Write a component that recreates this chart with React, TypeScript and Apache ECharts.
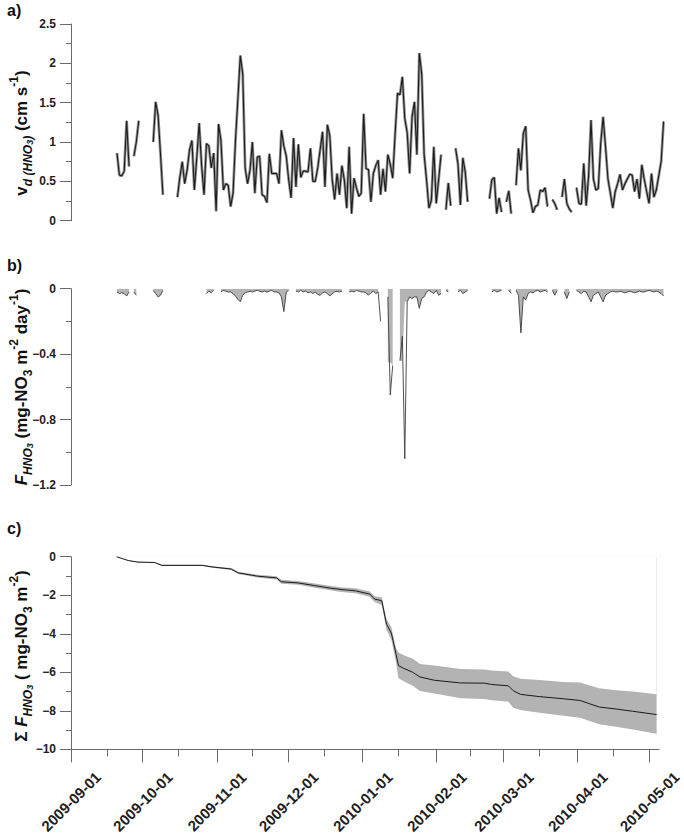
import React, { useEffect, useRef } from 'react';
import * as echarts from 'echarts';

const FONT = '"Liberation Sans", Arial, Helvetica, sans-serif';

// ---------- axis / tick data ----------
const axisStart = '2009-09-01';
const axisEnd = '2010-05-05';
const monthTicks = [
  '2009-09-01', '2009-10-01', '2009-11-01', '2009-12-01', '2010-01-01',
  '2010-02-01', '2010-03-01', '2010-04-01', '2010-05-01',
];
const midMonthTicks = [
  '2009-09-16', '2009-10-16', '2009-11-16', '2009-12-16', '2010-01-16',
  '2010-02-15', '2010-03-16', '2010-04-16',
];

// ---------- a) deposition velocity (cm s-1), daily, segments [first day, values] ----------
const velocitySegments: [string, number[]][] = [
  ['2009-09-20', [0.86, 0.58, 0.57, 0.63, 1.27, 0.69]],
  ['2009-09-27', [0.82, 1.0, 1.27]],
  ['2009-10-05', [1.0, 1.51, 1.34, 0.85, 0.33]],
  ['2009-10-15', [
    0.30, 0.55, 0.75, 0.47, 0.64, 0.90, 1.02, 0.39, 0.80, 1.24,
    0.70, 0.33, 0.98, 0.95, 0.67, 0.86, 0.12, 1.23, 1.02, 0.39,
    0.47, 0.45, 0.18, 0.35, 1.02, 1.55, 2.10, 1.87, 0.67, 0.47,
    0.64, 1.00, 0.35, 0.81, 0.82, 0.33, 0.31, 0.23, 0.85, 0.60,
    0.60, 0.60, 0.47, 1.15, 0.95, 0.82, 0.52, 0.29, 1.05, 0.43,
    0.97, 0.55, 0.63, 0.63, 0.62, 0.92, 0.50, 0.50, 0.67, 0.90,
    1.13, 0.43, 1.22, 1.08, 0.52, 0.27, 0.60, 0.33, 0.70, 0.52,
    0.16, 0.94, 0.09, 0.54, 0.42, 0.31, 0.35, 1.36, 0.66, 0.65,
    0.24, 0.60, 0.70, 0.77, 0.33, 0.66, 0.37, 0.84, 0.72, 0.54,
    1.10, 1.62, 1.60, 1.83, 1.30, 1.12, 0.60, 1.32, 1.51, 0.84,
    2.13, 1.87, 0.84, 0.52, 0.16, 0.26, 0.94, 0.22, 0.52, 0.84,
  ]],
  ['2010-02-03', [0.14, 0.48, 0.19]],
  ['2010-02-07', [0.92, 0.72, 0.20, 0.80, 0.62, 0.24]],
  ['2010-02-21', [0.28, 0.52, 0.55, 0.09, 0.29, 0.11]],
  ['2010-02-28', [0.24, 0.38, 0.09]],
  ['2010-03-04', [0.45, 0.92, 0.64, 1.11, 1.20, 0.39, 0.26, 0.10, 0.18, 0.20, 0.39, 0.37, 0.42, 0.18]],
  ['2010-03-19', [0.27, 0.22, 0.14]],
  ['2010-03-23', [0.30, 0.53, 0.22, 0.15, 0.11]],
  ['2010-03-29', [
    0.42, 0.22, 0.21, 0.73, 0.19, 0.57, 1.28, 0.53, 0.39, 0.41,
    0.98, 1.32, 0.94, 0.53, 0.35, 0.16, 0.37, 0.47, 0.59, 0.39,
    0.47, 0.53, 0.59, 0.58, 0.37, 0.53, 0.28, 0.71, 0.53, 0.37,
    0.22, 0.60, 0.30, 0.39, 0.57, 0.75, 1.26,
  ]],
];

// ---------- b) HNO3 flux (mg-NO3 m-2 day-1), daily segments ----------
const fluxSegments: [string, number[]][] = [
  ['2009-09-20', [-0.02, -0.03, -0.025, -0.03, -0.045, -0.02]],
  ['2009-09-27', [-0.02, -0.04]],
  ['2009-10-05', [-0.01, -0.03, -0.05, -0.04, -0.01]],
  ['2009-10-27', [-0.03, -0.015, -0.025, -0.01]],
  ['2009-11-02', [
    -0.02, -0.01, -0.015, -0.02, -0.02, -0.03, -0.045, -0.065, -0.08, -0.04,
    -0.025, -0.02, -0.015, -0.02, -0.015, -0.01, -0.015, -0.02, -0.015, -0.02,
    -0.015, -0.01, -0.02, -0.02, -0.025, -0.05, -0.14, -0.02, -0.01,
  ]],
  ['2009-12-03', [
    -0.015, -0.02, -0.01, -0.02, -0.015, -0.025, -0.02, -0.03, -0.02, -0.035,
    -0.04, -0.025, -0.02, -0.03, -0.045, -0.03, -0.02, -0.015, -0.02, -0.015,
  ]],
  ['2009-12-25', [-0.02, -0.015, -0.02, -0.01, -0.015, -0.02, -0.02, -0.025, -0.04, -0.025, -0.015, -0.03, -0.02, -0.2]],
  ['2010-01-10', [-0.05, -0.65, -0.47]],
  ['2010-01-15', [-0.44, -0.29, -1.04, -0.08, -0.05, -0.06, -0.05, -0.05, -0.12, -0.06, -0.05, -0.02, -0.01, -0.02, -0.03, -0.01, -0.04, -0.03]],
  ['2010-02-03', [-0.01, -0.02]],
  ['2010-02-08', [-0.02, -0.01, -0.03, -0.02, -0.01]],
  ['2010-02-22', [-0.02, -0.01, -0.02, -0.015, -0.01]],
  ['2010-03-01', [-0.01, -0.03]],
  ['2010-03-04', [-0.01, -0.04, -0.27, -0.05, -0.07, -0.03, -0.02, -0.025, -0.015, -0.01, -0.02, -0.015, -0.01, -0.02]],
  ['2010-03-19', [-0.01, -0.04, -0.01]],
  ['2010-03-24', [-0.02, -0.06, -0.02]],
  ['2010-03-29', [
    -0.01, -0.02, -0.03, -0.015, -0.02, -0.05, -0.08, -0.04, -0.03, -0.02,
    -0.05, -0.08, -0.04, -0.03, -0.02, -0.015, -0.02, -0.02, -0.015, -0.02,
    -0.025, -0.02, -0.015, -0.02, -0.025, -0.02, -0.015, -0.02, -0.02, -0.015,
    -0.01, -0.015, -0.02, -0.015, -0.02, -0.03, -0.045,
  ]],
];
// days where the shaded flux area differs from the flux line
const fluxFillEdits: [string, number | null][] = [
  ['2010-01-07', null],
  ['2010-01-10', -0.45],
  ['2010-01-11', -0.45],
  ['2010-01-16', -0.44],
  ['2010-01-17', -0.08],
];

// ---------- c) cumulative flux (mg-NO3 m-2) with uncertainty range ----------
const cumDates = [
  '2009-09-20', '2009-09-25', '2009-09-29', '2009-10-06', '2009-10-09', '2009-10-26', '2009-10-30',
  '2009-11-07', '2009-11-10', '2009-11-18', '2009-11-26', '2009-11-28', '2009-12-05', '2009-12-12',
  '2009-12-19', '2009-12-23', '2009-12-29', '2010-01-04', '2010-01-06', '2010-01-09', '2010-01-11',
  '2010-01-13', '2010-01-14', '2010-01-15', '2010-01-16', '2010-01-18', '2010-01-22', '2010-01-25',
  '2010-01-31', '2010-02-11', '2010-02-21', '2010-02-24', '2010-03-03', '2010-03-05', '2010-03-08',
  '2010-03-16', '2010-03-26', '2010-04-02', '2010-04-06', '2010-04-10', '2010-04-17', '2010-04-24',
  '2010-05-04',
];
const cumFlux = [
  0, -0.2, -0.28, -0.3, -0.45, -0.45, -0.53, -0.64, -0.84, -1.01, -1.1, -1.3, -1.36, -1.5,
  -1.64, -1.7, -1.77, -1.94, -2.2, -2.28, -3.5, -3.96, -4.5, -5.06, -5.65, -5.78, -6.0, -6.24,
  -6.41, -6.55, -6.56, -6.63, -6.7, -6.95, -7.14, -7.26, -7.37, -7.46, -7.63, -7.8, -7.9, -8.02,
  -8.19,
];
const cumUpper = [
  0, -0.19, -0.26, -0.28, -0.42, -0.42, -0.49, -0.59, -0.78, -0.94, -1.02, -1.2, -1.26, -1.39,
  -1.52, -1.58, -1.64, -1.8, -2.05, -2.1, -3.25, -3.65, -4.2, -4.75, -4.97, -5.1, -5.3, -5.57,
  -5.65, -5.82, -5.85, -5.9, -5.95, -6.2, -6.33, -6.4, -6.5, -6.53, -6.68, -6.83, -6.93, -7.0,
  -7.13,
];
const cumLower = [
  0, -0.21, -0.3, -0.32, -0.48, -0.48, -0.57, -0.69, -0.9, -1.08, -1.18, -1.4, -1.46, -1.61,
  -1.76, -1.83, -1.9, -2.08, -2.35, -2.5, -3.8, -4.3, -4.9, -5.5, -6.3, -6.45, -6.7, -6.97,
  -7.1, -7.34, -7.38, -7.45, -7.52, -7.84, -7.95, -8.1, -8.25, -8.35, -8.52, -8.69, -8.82, -8.97,
  -9.19,
];

// ---------- helpers ----------
function dayTime(s: string, offset = 0): number {
  const [y, m, d] = s.split('-').map(Number);
  return new Date(y, m - 1, d + offset).getTime();
}

function buildDaily(segments: [string, number[]][], edits: [string, number | null][] = []) {
  const editMap = new Map<number, number | null>();
  edits.forEach(([d, v]) => editMap.set(dayTime(d), v));
  const out: [number, number | null][] = [];
  segments.forEach(([start, vals]) => {
    vals.forEach((v, i) => {
      const t = dayTime(start, i);
      out.push([t, editMap.has(t) ? (editMap.get(t) as number | null) : v]);
    });
    const last = dayTime(start, vals.length - 1);
    out.push([last + 12 * 3600 * 1000, null]);
  });
  return out;
}

function fmtDate(v: number): string {
  const d = new Date(v);
  const p = (n: number) => (n < 10 ? '0' + n : '' + n);
  return `${d.getFullYear()}-${p(d.getMonth() + 1)}-${p(d.getDate())}`;
}

const AXIS_COLOR = '#6a6a6a';
const LABEL_COLOR = '#1e1e1e';

function yAxis(gridIndex: number, min: number, max: number, interval: number) {
  return {
    type: 'value',
    gridIndex,
    min,
    max,
    interval,
    axisLine: { show: true, lineStyle: { color: AXIS_COLOR, width: 1 } },
    axisTick: { show: true, length: 11, lineStyle: { color: AXIS_COLOR, width: 1 } },
    minorTick: { show: true, splitNumber: 2, length: 5, lineStyle: { color: AXIS_COLOR, width: 1 } },
    splitLine: { show: false },
    minorSplitLine: { show: false },
    axisLabel: {
      margin: 15,
      fontSize: 12,
      fontWeight: 'bold',
      fontFamily: FONT,
      color: LABEL_COLOR,
      formatter: (v: number) => String(Math.round(v * 100) / 100).replace('-', '\u2212'),
    },
  };
}

const richStyles = {
  m: { fontSize: 17, fontWeight: 'bold', fontFamily: FONT, lineHeight: 26, verticalAlign: 'middle', fill: '#111' },
  mi: { fontSize: 17, fontWeight: 'bold', fontStyle: 'italic', fontFamily: FONT, lineHeight: 26, verticalAlign: 'middle', fill: '#111' },
  s: { fontSize: 12, fontWeight: 'bold', fontFamily: FONT, lineHeight: 12, verticalAlign: 'bottom', fill: '#111' },
  si: { fontSize: 12, fontWeight: 'bold', fontStyle: 'italic', fontFamily: FONT, lineHeight: 12, verticalAlign: 'bottom', fill: '#111' },
  ss: { fontSize: 9, fontWeight: 'bold', fontStyle: 'italic', fontFamily: FONT, lineHeight: 6, verticalAlign: 'bottom', fill: '#111' },
  p: { fontSize: 12, fontWeight: 'bold', fontFamily: FONT, lineHeight: 12, verticalAlign: 'top', fill: '#111' },
};

function yTitle(text: string, x: number, y: number) {
  return {
    type: 'text',
    x,
    y,
    rotation: Math.PI / 2,
    style: { text, rich: richStyles, align: 'center', verticalAlign: 'middle', fill: '#111' },
  };
}

function panelLabel(text: string, x: number, y: number) {
  return {
    type: 'text',
    x,
    y,
    style: { text, fontSize: 16, fontWeight: 'bold', fontFamily: FONT, fill: '#111', verticalAlign: 'top', align: 'left' },
  };
}

function buildOption() {
  const tMin = dayTime(axisStart);
  const tMax = dayTime(axisEnd);
  const velocity = buildDaily(velocitySegments);
  const flux = buildDaily(fluxSegments);
  const fluxFill = buildDaily(fluxSegments, fluxFillEdits);
  const cumT = cumDates.map((d) => dayTime(d));
  const bandLower = cumT.map((t, i) => [t, cumLower[i]]);
  const bandUpper = cumT.map((t, i) => [t, cumUpper[i]]);
  const cumLine = cumT.map((t, i) => [t, cumFlux[i]]);

  const hiddenX = (gridIndex: number) => ({ type: 'time', gridIndex, min: tMin, max: tMax, show: false });

  return {
    animation: false,
    backgroundColor: '#ffffff',
    grid: [
      { left: 71, top: 24, width: 595, height: 196.7 },
      { left: 71, top: 288.7, width: 595, height: 196.3 },
      { left: 71, top: 556.7, width: 595, height: 197.6 },
    ],
    xAxis: [
      hiddenX(0),
      hiddenX(1),
      hiddenX(2),
      {
        type: 'value',
        gridIndex: 2,
        min: tMin,
        max: tMax,
        position: 'bottom',
        axisLine: { show: true, onZero: false, lineStyle: { color: AXIS_COLOR, width: 1 } },
        axisTick: { show: true, customValues: monthTicks.map((d) => dayTime(d)), length: 13, lineStyle: { color: AXIS_COLOR, width: 1 } },
        axisLabel: {
          customValues: monthTicks.map((d) => dayTime(d)),
          formatter: (v: number) => fmtDate(v),
          rotate: 45,
          align: 'center',
          verticalAlign: 'middle',
          margin: 52,
          fontSize: 15,
          fontWeight: 'bold',
          fontFamily: FONT,
          color: LABEL_COLOR,
        },
        splitLine: { show: false },
      },
      {
        type: 'value',
        gridIndex: 2,
        min: tMin,
        max: tMax,
        position: 'bottom',
        axisLine: { show: false, onZero: false },
        axisTick: { show: true, customValues: midMonthTicks.map((d) => dayTime(d)), length: 7, lineStyle: { color: AXIS_COLOR, width: 1 } },
        axisLabel: { show: false },
        splitLine: { show: false },
      },
    ],
    yAxis: [yAxis(0, 0, 2.5, 0.5), yAxis(1, -1.2, 0, 0.4), yAxis(2, -10, 0, 2)],
    series: [
      {
        type: 'line', xAxisIndex: 0, yAxisIndex: 0, data: velocity, symbol: 'none', connectNulls: false,
        lineStyle: { color: '#959595', width: 2.8 }, z: 2,
      },
      {
        type: 'line', xAxisIndex: 0, yAxisIndex: 0, data: velocity, symbol: 'none', connectNulls: false,
        lineStyle: { color: '#1c1c1c', width: 1.1 }, z: 3,
      },
      {
        type: 'line', xAxisIndex: 1, yAxisIndex: 1, data: fluxFill, symbol: 'none', connectNulls: false,
        lineStyle: { width: 0, opacity: 0 }, areaStyle: { color: '#b4b4b4', opacity: 1 }, z: 2,
      },
      {
        type: 'line', xAxisIndex: 1, yAxisIndex: 1, data: flux, symbol: 'none', connectNulls: false,
        lineStyle: { color: '#3c3c3c', width: 0.9 }, z: 3,
      },
      {
        type: 'line', xAxisIndex: 2, yAxisIndex: 2, data: bandLower, symbol: 'none',
        lineStyle: { width: 0, opacity: 0 }, areaStyle: { color: '#b3b3b3', opacity: 1 }, z: 2,
      },
      {
        type: 'line', xAxisIndex: 2, yAxisIndex: 2, data: bandUpper, symbol: 'none',
        lineStyle: { width: 0, opacity: 0 }, areaStyle: { color: '#ffffff', opacity: 1 }, z: 2.5,
      },
      {
        type: 'line', xAxisIndex: 2, yAxisIndex: 2, data: cumLine, symbol: 'none',
        lineStyle: { color: '#1a1a1a', width: 1 }, z: 3,
      },
    ],
    graphic: [
      panelLabel('a)', 7, 2),
      panelLabel('b)', 7, 257),
      panelLabel('c)', 7, 520),
      yTitle('{m|v}{si|d (HNO}{ss|3}{si|)}{m| (cm s}{p|-1}{m|)}', 21, 133),
      yTitle('{mi|F}{si|HNO}{ss|3}{m| (mg-NO}{s|3}{m| m}{p|-2}{m| day}{p|-1}{m|)}', 21, 387),
      yTitle('{m|\u03A3 }{mi|F}{si|HNO}{ss|3}{m| ( mg-NO}{s|3}{m| m}{p|-2}{m|)}', 21, 656),
    ],
  };
}

export default function App() {
  const ref = useRef<HTMLDivElement>(null);
  useEffect(() => {
    if (!ref.current) return;
    const chart = echarts.init(ref.current, undefined, { renderer: 'svg' });
    chart.setOption(buildOption() as any);
    return () => chart.dispose();
  }, []);
  return (
    <div
      ref={ref}
      style={{ position: 'absolute', left: 0, top: 0, width: 684, height: 836, background: '#ffffff' }}
    />
  );
}
